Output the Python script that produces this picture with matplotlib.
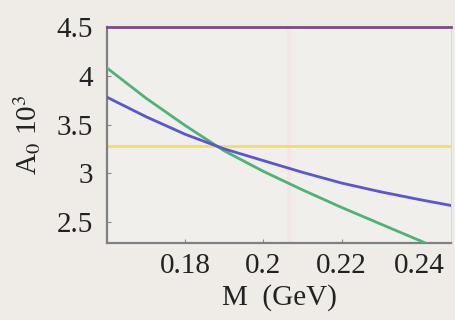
import matplotlib.pyplot as plt

plt.rcParams['font.family'] = ['Liberation Serif', 'DejaVu Serif']
plt.rcParams['mathtext.fontset'] = 'stix'

# data
M = [0.16, 0.17, 0.18, 0.19, 0.20, 0.21, 0.22, 0.23, 0.24, 0.248]
green = [4.08, 3.77, 3.49, 3.23, 3.02, 2.83, 2.65, 2.48, 2.31, 2.17]
blue = [3.78, 3.58, 3.40, 3.25, 3.13, 3.01, 2.90, 2.81, 2.73, 2.67]
yellow_level = 3.28
top_level = 4.5
xticks = [0.18, 0.2, 0.22, 0.24]
xticklabels = ['0.18', '0.2', '0.22', '0.24']
yticks = [2.5, 3, 3.5, 4, 4.5]
yticklabels = ['2.5', '3', '3.5', '4', '4.5']

bg = '#efece8'
fig = plt.figure(figsize=(4.56, 3.2), dpi=100, facecolor=bg)
ax = fig.add_axes([0.2346, 0.2406, 0.7544, 0.675])
ax.set_facecolor('#f1efeb')

ax.axvline(0.2065, color='#f4e6e6', lw=3, zorder=0)
ax.axhline(yellow_level, color='#f2dc6a', lw=2, zorder=2)
ax.plot(M, green, color='#4fb276', lw=2, zorder=3)
ax.plot(M, blue, color='#5a55d0', lw=2, zorder=3)
ax.axhline(top_level, color='#7a4a86', lw=2, zorder=4, clip_on=False)

ax.set_xlim(0.16, 0.248)
ax.set_ylim(2.285, 4.5)
ax.set_xticks(xticks)
ax.set_xticklabels(xticklabels)
ax.set_yticks(yticks)
ax.set_yticklabels(yticklabels)
ax.tick_params(direction='in', length=3, width=0.8, color='#888888',
               labelsize=21, labelcolor='#222222')
ax.tick_params(axis='x', pad=7)
ax.tick_params(axis='y', pad=10)

for side in ['left', 'bottom']:
    ax.spines[side].set_color('#808080')
    ax.spines[side].set_linewidth(1.6)
ax.spines['top'].set_visible(False)
ax.spines['right'].set_color('#dcdad6')

ax.set_xlabel('M  (GeV)', fontsize=21, color='#222222', labelpad=4)
ax.set_ylabel('A$_0$ 10$^3$', fontsize=21, color='#222222', labelpad=10)

plt.savefig('out.png', dpi=100, facecolor=bg)
